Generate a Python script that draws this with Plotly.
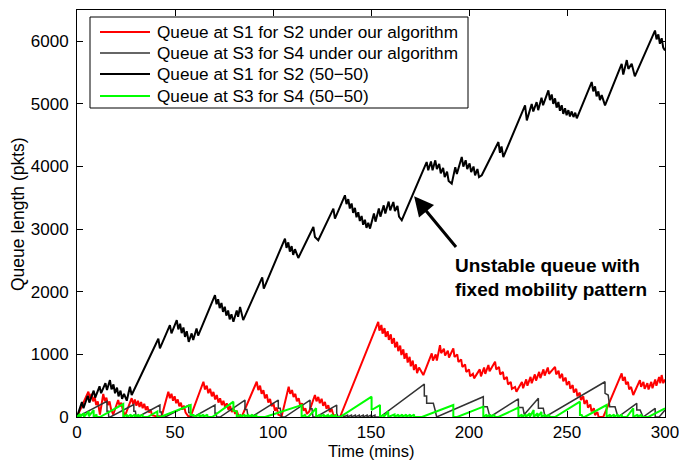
import plotly.graph_objects as go

# ---- queue traces: (time in mins, queue length in pkts) vertices ----
s1_ours = [
    (0, 0), (5.8, 404), (6.6, 300), (7.4, 370), (8.2, 250), (9.0, 320), (9.8, 190), (10.6, 250), (11.7, 40),
    (13.4, 370), (14.2, 250), (15.0, 310), (15.8, 190), (16.6, 250), (17.4, 120), (18.5, 40),
    (21.0, 271), (21.8, 170), (22.6, 230), (23.4, 110), (24.5, 20),
    (27.9, 300), (28.7, 200), (29.5, 280), (30.3, 180), (31.1, 260), (31.9, 160), (32.7, 240), (33.5, 140),
    (34.3, 210), (35.1, 110), (35.9, 170), (36.7, 70), (37.5, 120), (38.3, 30), (40.6, 10), (43.2, 10),
    (46.6, 404), (47.4, 300), (48.2, 370), (49.0, 260), (49.8, 330), (50.6, 220), (51.4, 280), (52.2, 170),
    (53.0, 230), (53.8, 120), (54.6, 180), (55.4, 70), (56.8, 10), (58.0, 10),
    (64.5, 563), (65.3, 440), (66.2, 500), (67.0, 380), (67.9, 450), (68.8, 330), (69.6, 400), (70.5, 280),
    (71.3, 350), (72.2, 230), (73.0, 300), (73.9, 190), (74.7, 260), (75.6, 150), (76.4, 220), (77.3, 110),
    (78.1, 180), (79.0, 80), (79.8, 140), (80.7, 50), (81.5, 100), (82.4, 20), (84.0, 0),
    (91.7, 563), (92.5, 430), (93.4, 500), (94.2, 370), (95.1, 430), (95.9, 300), (96.8, 360), (97.6, 230),
    (98.5, 290), (99.3, 170), (100.2, 220), (101.0, 100), (101.9, 150), (102.7, 40), (104.4, 10),
    (108.0, 483), (108.8, 370), (109.7, 430), (110.5, 320), (111.4, 370), (112.2, 250), (113.1, 300),
    (113.9, 180), (114.8, 220), (115.6, 100), (116.5, 140), (117.3, 50), (118.5, 90),
    (121.4, 351), (122.2, 250), (123.1, 320), (123.9, 220), (124.8, 290), (125.6, 180), (126.5, 240),
    (127.3, 130), (128.2, 190), (129.0, 80), (129.9, 130), (130.7, 40), (132.5, 0), (134.2, 0),
    (153.7, 1520), (154.3, 1380), (155.3, 1470), (155.9, 1330), (156.9, 1420), (157.5, 1280), (158.5, 1370),
    (159.1, 1230), (160.1, 1320), (160.7, 1170), (161.7, 1260), (162.3, 1110), (163.3, 1200), (163.9, 1050),
    (164.9, 1140), (165.5, 990), (166.5, 1080), (167.1, 930), (168.1, 1020), (168.7, 870), (169.7, 960),
    (170.3, 810), (171.3, 900), (171.9, 750), (172.9, 840), (173.5, 700), (174.5, 790), (176.7, 670),
    (181.0, 1016), (181.6, 900), (183.0, 1000), (183.6, 900), (185.2, 1148), (185.8, 1020), (187.2, 1090),
    (187.8, 980), (189.2, 1060), (189.8, 950), (192.0, 1096), (192.6, 960), (194.0, 1000), (194.6, 880),
    (196.0, 920), (196.6, 800), (198.0, 840), (198.6, 720), (200.0, 760), (200.6, 650), (202.0, 690),
    (202.6, 617), (205.5, 760), (206.1, 650), (207.7, 790), (208.3, 690), (209.9, 830), (210.5, 730),
    (213.3, 882), (213.9, 760), (215.3, 800), (215.9, 680), (217.3, 720), (217.9, 600), (219.3, 640),
    (219.9, 520), (221.3, 560), (221.9, 450), (223.5, 480), (224.2, 404),
    (227.0, 560), (227.6, 460), (229.2, 600), (229.8, 500), (231.4, 640), (232.0, 540), (233.6, 680),
    (234.2, 580), (235.8, 720), (236.4, 620), (238.0, 760), (238.6, 660), (240.2, 790), (240.8, 690),
    (243.9, 802), (244.5, 680), (245.7, 740), (246.3, 620), (247.5, 690), (248.1, 570), (249.3, 630),
    (249.9, 510), (251.1, 570), (251.7, 450), (252.9, 510), (253.5, 390), (254.7, 450), (255.3, 330),
    (256.5, 390), (257.1, 270), (258.3, 330), (258.9, 210), (260.1, 270), (260.7, 150), (261.9, 200),
    (262.5, 90), (263.7, 140), (264.3, 30), (265.5, 80), (266.1, 0), (268.5, 0),
    (277.9, 697), (278.5, 580), (279.5, 640), (280.1, 520), (281.1, 560), (281.7, 440), (282.7, 480),
    (283.8, 351), (287.2, 590), (287.8, 480), (289.0, 560), (289.6, 450), (291.0, 540), (291.6, 440),
    (293.0, 560), (293.6, 460), (295.0, 600), (295.6, 500), (297.0, 640), (297.6, 540), (298.3, 670),
    (299.1, 540), (300, 600),
]

s3_ours = [
    (0, 0), (15.3, 250), (15.3, 90), (16.0, 90), (16.2, 0), (17.0, 0), (29.0, 200), (29.0, 90), (29.8, 90),
    (30.2, 0), (31.0, 0), (42.3, 190), (42.3, 80), (43.0, 80), (43.3, 0), (45.0, 0), (57.0, 190), (57.0, 70),
    (57.8, 70), (58.0, 0), (59.5, 0), (70.4, 191), (70.4, 60), (71.0, 60), (71.2, 0), (73.0, 0),
    (85.7, 271), (85.7, 120), (86.7, 120), (87.3, 0), (89.0, 0), (102.7, 271), (102.7, 140), (103.7, 140),
    (104.3, 0), (106.0, 0), (118.9, 271), (118.9, 130), (119.9, 130), (120.4, 0), (122.0, 0),
    (132.5, 191), (132.5, 60), (133.3, 0),
    (136, 30), (136, 0), (138, 30), (138, 0), (140, 30), (140, 0), (142, 30), (142, 0), (144, 30), (144, 0),
    (146, 30), (146, 0), (148, 30), (148, 0), (150, 30), (150, 0), (152, 30), (152, 0), (154.6, 0),
    (177.2, 526), (177.2, 335), (178.4, 335), (178.4, 218), (181.8, 218), (182.7, 112), (183.5, 0),
    (207.3, 324), (207.3, 165), (209.3, 165), (210.7, 0), (225.2, 290), (225.2, 150), (227.5, 150),
    (228.2, 40), (235.4, 298), (235.4, 138), (237.9, 138), (238.8, 0), (269.4, 563), (269.4, 378),
    (271.0, 351), (271.8, 165), (274.5, 165), (275.3, 59), (276.0, 0), (285.6, 218), (285.6, 112),
    (287.3, 112), (288.8, 0), (295.0, 138), (295.0, 0), (297.0, 0), (300, 110),
]

s1_fixed = [
    (0, 0), (2.5, 240), (3.3, 140), (5.5, 340), (6.3, 230), (8.5, 420), (9.3, 310), (11.5, 490), (12.3, 380),
    (14.5, 540), (15.3, 430), (16.8, 590), (17.6, 440), (18.6, 520), (19.4, 380), (20.4, 470), (21.2, 330),
    (22.2, 420), (23.0, 290), (24.0, 370), (25.4, 260), (27.0, 483), (27.9, 351), (41.5, 1250), (42.3, 1096),
    (47.4, 1467), (48.2, 1335), (50.9, 1547), (51.7, 1400), (52.6, 1490), (53.4, 1340), (54.3, 1430),
    (55.1, 1280), (56.0, 1370), (57.0, 1201), (58.5, 1335), (59.3, 1230), (61.0, 1414), (61.8, 1300),
    (70.4, 1946), (71.2, 1800), (72.0, 1880), (72.8, 1740), (73.7, 1820), (74.5, 1680), (75.4, 1760),
    (76.2, 1620), (77.1, 1700), (77.9, 1560), (78.8, 1640), (79.8, 1520), (81.5, 1700), (82.2, 1600),
    (83.2, 1759), (84.8, 1547), (94.5, 2230), (95.3, 2050), (106.1, 2850), (106.9, 2700), (107.8, 2790),
    (108.6, 2640), (109.5, 2730), (110.3, 2590), (111.2, 2680), (112.9, 2540), (120.6, 3035), (121.4, 2875),
    (123.1, 2823), (130.8, 3328), (131.6, 3169), (136.7, 3541), (137.5, 3400), (138.4, 3480), (139.2, 3330),
    (140.1, 3410), (140.9, 3260), (141.8, 3340), (142.6, 3190), (143.5, 3270), (144.3, 3130), (145.2, 3210),
    (146.0, 3070), (146.9, 3150), (147.7, 3020), (148.6, 3100), (149.5, 3009), (151.5, 3250), (152.3, 3120),
    (154.0, 3330), (154.8, 3200), (156.5, 3380), (157.3, 3250), (159.0, 3440), (159.8, 3300), (161.4, 3434),
    (162.2, 3290), (163.5, 3370), (164.3, 3200), (165.7, 3142), (178.4, 4072), (179.2, 3940), (180.6, 4080),
    (181.4, 3940), (182.8, 4099), (183.6, 3960), (184.8, 4040), (185.6, 3890), (186.8, 3980), (187.6, 3830),
    (188.8, 3920), (189.6, 3770), (191.2, 3727), (193.0, 3990), (193.8, 3880), (196.3, 4152), (197.1, 4000),
    (198.3, 4100), (199.1, 3960), (200.3, 4050), (201.1, 3910), (202.3, 4000), (203.1, 3860), (204.3, 3960),
    (205.1, 3830), (206.5, 3860), (215.0, 4391), (215.8, 4220), (216.6, 4320), (217.5, 4152), (228.6, 4976),
    (229.5, 4737), (232.0, 5000), (232.8, 4880), (234.5, 5029), (235.3, 4900), (237.0, 5100), (237.8, 4980),
    (240.5, 5215), (241.3, 5060), (242.2, 5150), (243.0, 5000), (243.9, 5090), (244.7, 4940), (245.6, 5030),
    (246.4, 4890), (247.3, 4980), (248.1, 4840), (249.0, 4930), (249.8, 4820), (250.7, 4900), (251.5, 4800),
    (252.4, 4880), (253.3, 4790), (254.2, 4860), (255.0, 4770), (262.6, 5350), (263.4, 5200), (264.3, 5280),
    (265.1, 5120), (266.0, 5200), (266.8, 5060), (267.7, 5140), (269.4, 4976), (277.9, 5641), (278.7, 5470),
    (280.5, 5700), (281.3, 5560), (283.0, 5640), (284.6, 5440), (294.9, 6172), (295.7, 6030), (296.6, 6110),
    (297.4, 5960), (298.3, 6050), (299.1, 5900), (300, 5853),
]

s3_fixed = [
    (0, 0), (1.5, 50), (1.5, 0), (3.5, 60), (3.5, 0), (6.0, 90), (6.0, 10), (8.5, 110), (8.5, 0), (10.0, 40),
    (10.0, 0), (11.7, 0), (23.6, 207), (23.6, 0), (25.5, 40), (25.5, 0), (27.5, 40), (27.5, 0), (29.5, 40),
    (29.5, 0), (31.5, 40), (31.5, 0), (33.5, 40), (33.5, 0), (36.0, 0), (41.0, 90), (41.0, 0), (42.5, 0),
    (58.0, 191), (58.0, 30), (59.5, 30), (60.0, 0), (62.5, 40), (62.5, 0), (64.5, 40), (64.5, 0), (66.5, 40),
    (66.5, 0), (69.0, 0), (79.8, 245), (79.8, 100), (81.5, 90), (81.5, 0), (83.5, 40), (83.5, 0), (85.5, 40),
    (85.5, 0), (87.5, 40), (87.5, 0), (89.5, 40), (89.5, 0), (91.5, 30), (91.5, 0), (96.0, 0), (114.6, 191),
    (114.6, 0), (116.5, 40), (116.5, 0), (118.0, 0), (122.0, 140), (122.0, 0), (124.0, 40), (124.0, 0),
    (126.0, 40), (126.0, 0), (128.0, 30), (128.0, 0), (130.0, 30), (130.0, 0), (132.0, 30), (132.0, 0),
    (134.2, 0), (150.3, 324), (150.3, 112), (154.6, 191), (154.6, 0), (156.5, 40), (156.5, 0), (158.8, 90),
    (158.8, 0), (162.0, 40), (162.0, 0), (164.0, 40), (164.0, 0), (166.0, 40), (166.0, 0), (168.0, 40),
    (168.0, 0), (170.0, 40), (170.0, 0), (172.0, 40), (172.0, 0), (176.0, 0), (192.0, 191), (192.0, 0),
    (194.0, 0), (207.3, 165), (207.3, 0), (209.0, 40), (209.0, 0), (211.0, 40), (211.0, 0), (213.0, 40),
    (213.0, 0), (215.0, 0), (225.2, 150), (225.2, 0), (227.0, 40), (227.0, 0), (229.0, 40), (229.0, 0),
    (231.0, 60), (231.0, 0), (233.0, 110), (233.0, 0), (235.0, 60), (235.0, 0), (237.0, 80), (237.0, 0),
    (239.0, 40), (239.0, 0), (241.0, 40), (241.0, 0), (243.9, 0), (256.6, 245), (256.6, 30), (257.5, 30),
    (258.0, 0), (259.0, 0), (270.2, 191), (270.2, 0), (272.0, 40), (272.0, 0), (274.0, 40), (274.0, 0),
    (276.0, 40), (276.0, 0), (278.0, 40), (278.0, 0), (280.5, 0), (283.8, 138), (283.8, 0), (286.0, 40),
    (286.0, 0), (288.0, 40), (288.0, 0), (291.5, 0), (300, 138),
]

series_names = [
    "Queue at S1 for S2 under our algorithm",
    "Queue at S3 for S4 under our algorithm",
    "Queue at S1 for S2 (50\u221250)",
    "Queue at S3 for S4 (50\u221250)",
]
series_data = [s1_ours, s3_ours, s1_fixed, s3_fixed]
series_colors = ["#ff0000", "#333333", "#000000", "#00ff00"]
series_widths = [2, 1.5, 2, 2]

x_ticks = [0, 50, 100, 150, 200, 250, 300]
y_ticks = [0, 1000, 2000, 3000, 4000, 5000, 6000]
x_range = [0, 300]
y_range = [0, 6500]

W, H = 679, 460
L, R, T, B = 77, 14, 10, 43
PW, PH = W - L - R, H - T - B

FONT = "Liberation Sans, Arial, Helvetica, sans-serif"


def px_to_paper(px, py):
    return (px - L) / PW, (H - B - py) / PH


fig = go.Figure()
for pts, name, color, width in zip(series_data, series_names, series_colors, series_widths):
    t_vals = [p[0] for p in pts]
    q_vals = [p[1] for p in pts]
    fig.add_trace(go.Scatter(x=t_vals, y=q_vals, mode="lines", name=name,
                             line=dict(color=color, width=width), showlegend=False,
                             hoverinfo="skip"))

axis_common = dict(ticks="inside", ticklen=6, tickwidth=1, tickcolor="black",
                   showline=True, linecolor="black", linewidth=1, mirror="ticks",
                   showgrid=False, zeroline=False, automargin=False,
                   ticklabeloverflow="allow",
                   tickfont=dict(family=FONT, size=17, color="black"))
fig.update_xaxes(range=x_range, tickvals=x_ticks, ticklabelstandoff=0, **axis_common)
fig.update_yaxes(range=y_range, tickvals=y_ticks, ticklabelstandoff=4, **axis_common)

fig.update_layout(width=W, height=H, margin=dict(l=L, r=R, t=T, b=B, pad=0),
                  plot_bgcolor="white", paper_bgcolor="white",
                  font=dict(family=FONT, size=17, color="black"))

# axis titles
xt, yt = px_to_paper(371, 450.5)
fig.add_annotation(text="Time (mins)", xref="paper", yref="paper", x=xt, y=yt, borderpad=0,
                   showarrow=False, xanchor="center", yanchor="middle", font=dict(size=16.5))
xt, yt = px_to_paper(18, 214)
fig.add_annotation(text="Queue length (pkts)", xref="paper", yref="paper", x=xt, y=yt,
                   textangle=-90, showarrow=False, xanchor="center", yanchor="middle",
                   font=dict(size=17.5))

# legend box
x0, y1 = px_to_paper(90, 17)
x1, y0 = px_to_paper(468, 108)
fig.add_shape(type="rect", xref="paper", yref="paper", x0=x0, x1=x1, y0=y0, y1=y1,
              line=dict(color="black", width=1), fillcolor="white", layer="above")
row_y = [32, 53, 74, 96]
for name, color, width, ry in zip(series_names, series_colors, series_widths, row_y):
    lx0, ly = px_to_paper(100, ry)
    lx1, _ = px_to_paper(150, ry)
    fig.add_shape(type="line", xref="paper", yref="paper", x0=lx0, x1=lx1, y0=ly, y1=ly,
                  line=dict(color=color, width=width), layer="above")
    tx, _ = px_to_paper(155, ry)
    fig.add_annotation(text=name, xref="paper", yref="paper", x=tx, y=ly, showarrow=False,
                       xanchor="left", yanchor="middle", font=dict(size=17.2))

# callout arrow and text
fig.add_annotation(x=172, y=3525, ax=194, ay=2690, xref="x", yref="y", axref="x", ayref="y",
                   text="", showarrow=True, arrowhead=2, arrowsize=1.3, arrowwidth=3,
                   arrowcolor="black")
for line_text, py in [("Unstable queue with", 265), ("fixed mobility pattern", 289)]:
    tx, ty = px_to_paper(453, py)
    fig.add_annotation(text="<b>" + line_text + "</b>", xref="paper", yref="paper", x=tx, y=ty,
                       showarrow=False, xanchor="left", yanchor="middle", font=dict(size=19))

fig.write_html("out.html")
